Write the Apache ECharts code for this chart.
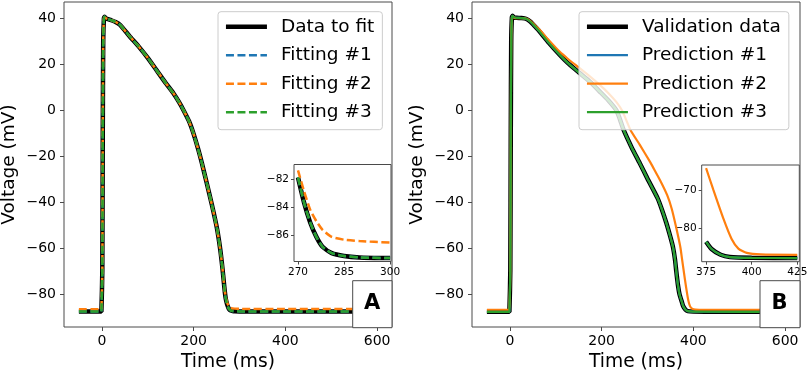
<!DOCTYPE html>
<html>
<head>
<meta charset="utf-8">
<script src="https://cdn.jsdelivr.net/npm/echarts@6.0.0/dist/echarts.min.js"></script>
<style>
  html, body { margin: 0; padding: 0; background: #fff; }
  #chart { width: 809px; height: 371px; }
</style>
</head>
<body>
<div id="chart"></div>
<script>
// panel A: fitting (time in ms, voltage in mV)
const timeA = [-50, -1, 0, 1, 2, 3, 4.5, 6, 9, 14, 20, 30, 40, 60, 80, 100, 120, 140, 156, 168, 178, 190, 200, 210, 218, 229, 240, 251, 258, 263, 266, 268, 270, 272, 274, 276, 278, 281, 285, 290, 300, 400, 600]
const dataFitA = [-87.7, -87.7, -87.7, -70, -10, 30, 40, 40.7, 40, 39.6, 39.2, 38.4, 37.1, 32.3, 27.8, 22.8, 17.2, 11.6, 7.4, 3.6, 0, -4.8, -10.3, -17, -23, -32, -41.3, -51.5, -60.5, -69, -75, -79, -81.9, -83.7, -85.1, -86.1, -86.8, -87.25, -87.45, -87.55, -87.6, -87.7, -87.7]
const fit1A = [-87.7, -87.7, -87.7, -70, -10, 30, 40, 40.7, 40, 39.6, 39.2, 38.4, 37.1, 32.3, 27.8, 22.8, 17.2, 11.6, 7.4, 3.6, 0, -4.8, -10.3, -17, -23, -32, -41.3, -51.5, -60.5, -69, -75, -79, -81.9, -83.7, -85.1, -86.1, -86.8, -87.25, -87.45, -87.55, -87.6, -87.7, -87.7]
const fit2A = [-86.7, -86.7, -86.7, -70, -10, 30, 40, 40.6, 40, 39.6, 39.2, 38.4, 37.1, 32.3, 27.8, 22.8, 17.2, 11.6, 7.4, 3.6, 0, -4.8, -10.3, -17, -23, -32, -41.3, -51.5, -60.5, -69, -75, -78.6, -81.4, -82.9, -84.2, -85.0, -85.6, -86.1, -86.3, -86.4, -86.5, -86.6, -86.6]
const fit3A = [-87.7, -87.7, -87.7, -70, -10, 30, 40, 40.7, 40, 39.6, 39.2, 38.4, 37.1, 32.3, 27.8, 22.8, 17.2, 11.6, 7.4, 3.6, 0, -4.8, -10.3, -17, -23, -32, -41.3, -51.5, -60.5, -69, -75, -79, -81.9, -83.7, -85.1, -86.1, -86.8, -87.25, -87.45, -87.55, -87.6, -87.7, -87.7]

// panel B: validation
const timeB = [-50, -1, 0, 1, 2, 3, 4.5, 6, 9, 15, 25, 35, 45, 55, 65, 85, 109, 125, 150, 175, 196, 215, 232, 240, 248, 265, 283, 300, 322, 331, 341, 349, 355.5, 360, 363, 366, 370, 375, 378, 383, 388, 400, 425, 600]
const validB = [-87.8, -87.8, -87.8, -70, -10, 30, 40.5, 41.1, 40.4, 40.2, 40.1, 39.8, 38.5, 36.4, 34.2, 29.3, 24, 20.8, 16.5, 12.3, 8.1, 4.2, 0, -4, -8.6, -16, -23, -29.8, -38.3, -43, -49, -54.5, -59.5, -65, -70.5, -75.5, -80.3, -83.5, -85.4, -86.9, -87.5, -87.7, -87.75, -87.8]
const pred1B = [-87.8, -87.8, -87.8, -70, -10, 30, 40.5, 41.1, 40.4, 40.2, 40.1, 39.8, 38.5, 36.4, 34.2, 29.3, 24, 20.8, 16.5, 12.3, 8.1, 4.2, 0, -4, -8.6, -16, -23, -29.8, -38.3, -43, -49, -54.5, -59.5, -65, -70.5, -75.5, -80.3, -83.5, -85.4, -86.9, -87.5, -87.7, -87.75, -87.8]
const pred3B = [-87.8, -87.8, -87.8, -70, -10, 30, 40.5, 41.1, 40.4, 40.2, 40.1, 39.8, 38.5, 36.4, 34.2, 29.3, 24, 20.8, 16.5, 12.3, 8.1, 4.2, 0, -4, -8.6, -16, -23, -29.8, -38.3, -43, -49, -54.5, -59.5, -65, -70.5, -75.5, -80.3, -83.5, -85.4, -86.9, -87.5, -87.7, -87.75, -87.8]
const timeB2 = [-50, -1, 0, 1, 2, 3, 4.5, 6, 9, 15, 25, 35, 45, 55, 65, 85, 109, 125, 150, 175, 196, 215, 232, 245, 263, 283, 305, 312, 328, 343, 353, 362, 368, 372, 375, 379, 384.5, 389, 392.7, 397.3, 405, 425, 600]
const pred2B = [-86.9, -86.9, -86.9, -70, -10, 30, 40.3, 40.8, 40.3, 40.1, 40.1, 39.9, 38.8, 36.9, 35, 30.5, 25.4, 22.6, 18.6, 14.6, 11, 7.4, 3.6, -0.3, -8.6, -15, -22.3, -24.8, -30.7, -37, -43, -50.5, -56, -60, -64.3, -70, -77.5, -82.8, -85.3, -86.4, -86.8, -86.9, -86.9]

// tick labels
const xTicksMain = [0, 200, 400, 600]
const yTicksMain = [-80, -60, -40, -20, 0, 20, 40]
const xTicksInsetA = [270, 285, 300]
const yTicksInsetA = [-86, -84, -82]
const xTicksInsetB = [375, 400, 425]
const yTicksInsetB = [-80, -70]

const BLUE = '#1f77b4', ORANGE = '#ff7f0e', GREEN = '#2ca02c'
const FONT = 'DejaVu Sans'
const SPINE = '#4a4a4a'

function pairs(t, v, lo, hi) {
  const out = []
  t.forEach((x, i) => {
    if (lo === undefined || (x >= lo && x <= hi)) out.push([x, v[i]])
  })
  return out
}
function minus(v) {
  return v < 0 ? '\u2212' + Math.abs(v) : String(v)
}

function xAxis(gridIndex, min, max, ticks, size, name) {
  return {
    type: 'value', gridIndex, min, max,
    name: name || '', nameLocation: 'middle', nameGap: 21,
    nameTextStyle: { fontFamily: FONT, fontSize: 18.7, color: '#000' },
    axisLine: { show: false, onZero: false },
    splitLine: { show: false },
    axisTick: { show: true, customValues: ticks, length: size > 12 ? 4 : 3, lineStyle: { color: SPINE } },
    axisLabel: { customValues: ticks, formatter: minus, fontFamily: FONT, fontSize: size, color: '#000', margin: size > 12 ? 7 : 5 }
  }
}
function yAxis(gridIndex, min, max, ticks, size, name) {
  return {
    type: 'value', gridIndex, min, max,
    name: name || '', nameLocation: 'middle', nameGap: 45, nameRotate: 90,
    nameTextStyle: { fontFamily: FONT, fontSize: 18.5, color: '#000' },
    axisLine: { show: false, onZero: false },
    splitLine: { show: false },
    axisTick: { show: true, customValues: ticks, length: size > 12 ? 4 : 3, lineStyle: { color: SPINE } },
    axisLabel: { customValues: ticks, formatter: minus, fontFamily: FONT, fontSize: size, color: '#000', margin: size > 12 ? 8 : 5 }
  }
}
function line(name, data, xi, color, width, dashed) {
  return {
    type: 'line', name, data, xAxisIndex: xi, yAxisIndex: xi,
    showSymbol: false, symbol: 'none', animation: false,
    smooth: 0.2,
    lineStyle: { color, width, type: dashed ? [8, 3.5] : 'solid' },
    itemStyle: { color }
  }
}
function legend(left, names) {
  return {
    data: names, orient: 'vertical', left, top: 11.7,
    itemWidth: 41, itemHeight: 18.5, itemGap: 9.5,
    padding: [5.5, 8, 8, 5.7],
    backgroundColor: 'rgba(255,255,255,0.8)',
    borderColor: '#cccccc', borderWidth: 1, borderRadius: 3,
    itemStyle: { opacity: 0 },
    lineStyle: { width: 'inherit' },
    textStyle: { fontFamily: FONT, fontSize: 18.5, color: '#000', padding: [0, 0, 0, 9] },
    selectedMode: false
  }
}
function panelBox(x, letter) {
  return [
    { type: 'rect', z: 100, shape: { x: x, y: 280.7, width: 392 - 352.7 + (letter === 'B' ? 0.7 : 0), height: 47 },
      style: { fill: '#fff', stroke: SPINE, lineWidth: 1 } },
    { type: 'text', z: 101, x: x + 19.5, y: 304,
      style: { text: letter, font: 'bold 21px "DejaVu Sans"', fill: '#000', align: 'center', verticalAlign: 'middle' } }
  ]
}

const gridStyle = { show: true, borderColor: SPINE, borderWidth: 1, backgroundColor: '#fff', containLabel: false, outerBoundsMode: 'none' }

const option = {
  animation: false,
  backgroundColor: '#fff',
  grid: [
    Object.assign({ left: 64, top: 2, width: 328, height: 325 }, gridStyle),
    Object.assign({ left: 294, top: 164.5, width: 97, height: 97 }, gridStyle),
    Object.assign({ left: 472, top: 2, width: 328, height: 325 }, gridStyle),
    Object.assign({ left: 701.7, top: 165, width: 97.6, height: 96.7 }, gridStyle)
  ],
  xAxis: [
    xAxis(0, -82.5, 632.5, xTicksMain, 14, 'Time (ms)'),
    xAxis(1, 268.7, 300.3, xTicksInsetA, 10.5),
    xAxis(2, -82.5, 632.5, xTicksMain, 14, 'Time (ms)'),
    xAxis(3, 372.6, 426.1, xTicksInsetB, 10.5)
  ],
  yAxis: [
    yAxis(0, -94.4, 47.1, yTicksMain, 14, 'Voltage (mV)'),
    yAxis(1, -87.84, -80.99, yTicksInsetA, 10.5),
    yAxis(2, -94.4, 47.1, yTicksMain, 14, 'Voltage (mV)'),
    yAxis(3, -88.7, -63.5, yTicksInsetB, 10.5)
  ],
  legend: [
    legend(218, ['Data to fit', 'Fitting #1', 'Fitting #2', 'Fitting #3']),
    legend(579, ['Validation data', 'Prediction #1', 'Prediction #2', 'Prediction #3'])
  ],
  series: [
    line('Data to fit', pairs(timeA, dataFitA), 0, '#000', 4.5, false),
    line('Fitting #1', pairs(timeA, fit1A), 0, BLUE, 2.5, true),
    line('Fitting #2', pairs(timeA, fit2A), 0, ORANGE, 2.5, true),
    line('Fitting #3', pairs(timeA, fit3A), 0, GREEN, 2.5, true),

    line('Data to fit', pairs(timeA, dataFitA, 270, 300), 1, '#000', 4.5, false),
    line('Fitting #1', pairs(timeA, fit1A, 270, 300), 1, BLUE, 2.5, true),
    line('Fitting #2', pairs(timeA, fit2A, 270, 300), 1, ORANGE, 2.5, true),
    line('Fitting #3', pairs(timeA, fit3A, 270, 300), 1, GREEN, 2.5, true),

    line('Validation data', pairs(timeB, validB), 2, '#000', 4.5, false),
    line('Prediction #1', pairs(timeB, pred1B), 2, BLUE, 2.2, false),
    line('Prediction #2', pairs(timeB2, pred2B), 2, ORANGE, 2.2, false),
    line('Prediction #3', pairs(timeB, pred3B), 2, GREEN, 2.2, false),

    line('Validation data', pairs(timeB, validB, 375, 425), 3, '#000', 4.5, false),
    line('Prediction #1', pairs(timeB, pred1B, 375, 425), 3, BLUE, 2.2, false),
    line('Prediction #2', pairs(timeB2, pred2B, 375, 425), 3, ORANGE, 2.2, false),
    line('Prediction #3', pairs(timeB, pred3B, 375, 425), 3, GREEN, 2.2, false)
  ],
  graphic: panelBox(352.7, 'A').concat(panelBox(760, 'B'))
}

const chart = echarts.init(document.getElementById('chart'), null, { renderer: 'canvas' })
chart.setOption(option)
</script>
</body>
</html>
